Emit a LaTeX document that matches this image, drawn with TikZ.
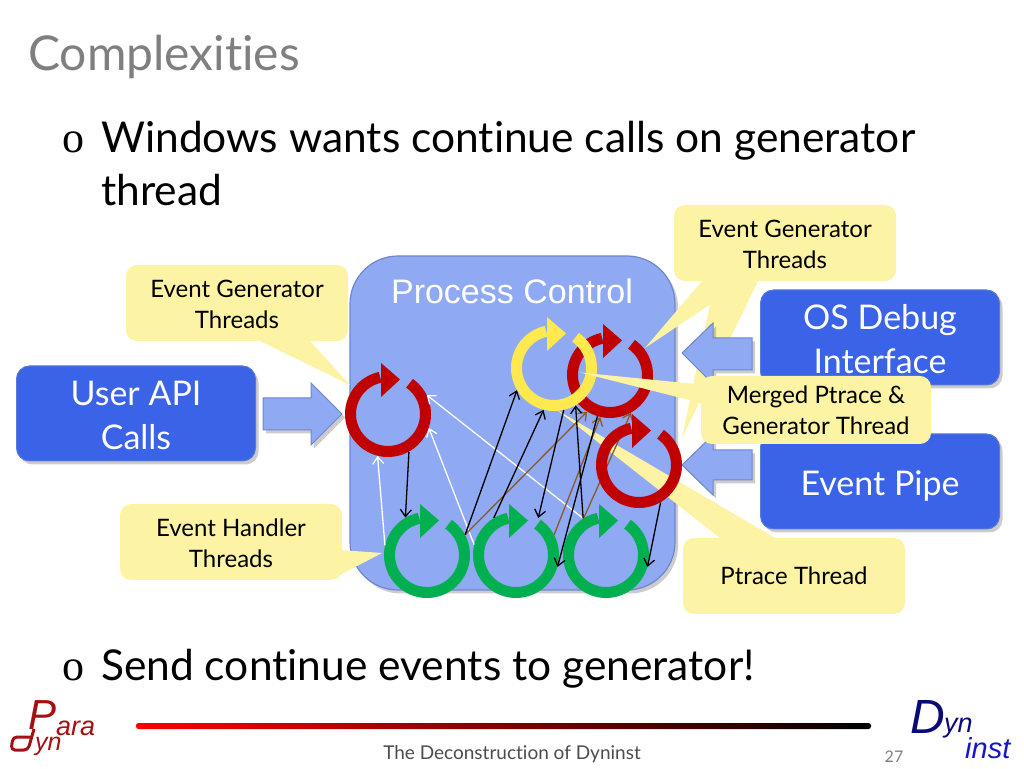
\documentclass[tikz,border=0pt]{standalone}
\usepackage{fontspec}
\setmainfont[Ligatures=NoCommon]{Lato}
\newfontfamily\arialfont{Liberation Sans}
\newfontfamily\bulletfont{Liberation Serif}
\usetikzlibrary{arrows.meta}
\usetikzlibrary{calc}
\usetikzlibrary{shadows}

\definecolor{titlegray}{HTML}{7F7F7F}
\definecolor{bluebox}{HTML}{3A63E8}
\definecolor{blueedge}{HTML}{5A78D8}
\definecolor{paleblue}{HTML}{8FA9F3}
\definecolor{paleedge}{HTML}{6F86CC}
\definecolor{note}{HTML}{FCF3A4}
\definecolor{loopred}{HTML}{C00000}
\definecolor{loopgreen}{HTML}{00B050}
\definecolor{loopyellow}{HTML}{FFE94F}
\definecolor{linkbrown}{HTML}{8A5A2B}
\definecolor{parared}{HTML}{A80F14}
\definecolor{dynnavy}{HTML}{0B0B78}
\definecolor{dynblue}{HTML}{1616C8}

\tikzset{
	softshadow/.style = {drop shadow={opacity=0.4,shadow xshift=3pt,shadow yshift=-3.5pt}},
	bluenode/.style = {fill=bluebox,draw=blueedge,line width=1pt,rounded corners=13pt,text=white,align=center,inner sep=0pt,
		minimum width=239pt,minimum height=95pt,font=\fontsize{34}{44}\selectfont,softshadow},
	notenode/.style = {fill=note,rounded corners=11pt,align=center,inner sep=0pt,
		minimum width=222pt,minimum height=76pt,font=\fontsize{24}{31}\selectfont},
	wedge/.style = {fill=note},
	blockarrow/.style = {fill=paleblue,draw=paleedge,line width=1pt,softshadow},
	loopnode/.style = {circle,minimum size=86pt,inner sep=0pt},
	headline/.style = {anchor=base west,inner sep=0pt,font=\fontsize{42.5}{46}\selectfont},
	blackarc/.style = {-{Straight Barb[length=7pt,width=11pt]},black,line width=1.3pt},
	whitearc/.style = {-{Straight Barb[length=7pt,width=11pt]},white,line width=1.3pt},
	brownarc/.style = {-{Straight Barb[length=7pt,width=11pt]},linkbrown,line width=1.3pt}
}

% one thread symbol, drawn round a loopnode
\newcommand{\threadloop}[2]{
	\draw [#2,line width=11pt] ($(#1)+(55:37.5)$) arc[start angle=55,end angle=-258,radius=37.5];
	\fill [#2] ($(#1)+(-7,51)$) -- ($(#1)+(12,34.5)$) -- ($(#1)+(-7,17)$) -- cycle;
}

\begin{document}
\begin{tikzpicture}[x=1pt,y=1pt]
	\useasboundingbox (0,0) rectangle (1024,768);
	\fill [white] (0,0) rectangle (1024,768);

	\node (title) [anchor=base west,inner sep=0pt,text=titlegray,font=\fontsize{48}{48}\selectfont] at (28,697) {Complexities};
	\node (bulletA) [headline,font=\bulletfont\fontsize{44}{46}\selectfont] at (62,615) {o};
	\node (lineA) [headline] at (101,615) {Windows wants continue calls on generator};
	\node (lineB) [headline] at (101,562) {thread};
	\node (bulletB) [headline,font=\bulletfont\fontsize{44}{46}\selectfont] at (62,88) {o};
	\node (lineC) [headline] at (101,88) {Send continue events to generator!};

	% process box
	\node (process) [fill=paleblue,draw=paleedge,line width=1.2pt,rounded corners=48pt,minimum width=325pt,minimum height=334pt,inner sep=0pt,softshadow] at (512.5,345) {};
	\node (processlabel) [text=white,font=\arialfont\fontsize{34}{34}\selectfont] at (512,477) {Process Control};

	% callout points that lie under the rest
	\fill [wedge] (702,487) -- (745,487) -- (645,420) -- cycle;
	\fill [wedge] (715,487) -- (758,487) -- (682,330) -- cycle;
	\fill [wedge] (260,427) -- (310,427) -- (350,383) -- cycle;
	\fill [wedge] (340,218) -- (340,193) -- (382,215) -- cycle;
	\fill [wedge] (720,230) -- (775,230) -- (557,358) -- cycle;

	\node (userapi) [bluenode] at (136,354.5) {\rule{0pt}{29pt}User API\\Calls};
	\node (osdebug) [bluenode] at (880,430.5) {\rule{0pt}{28pt}OS Debug\\Interface};
	\node (eventpipe) [bluenode] at (880,286.5) {\rule{0pt}{34pt}Event Pipe};

	\draw [blockarrow] (263,338) -- (311,338) -- (311,323) -- (342,354) -- (311,385) -- (311,370) -- (263,370) -- cycle;
	\draw [blockarrow] (752,430) -- (713,430) -- (713,445) -- (682,415) -- (713,384) -- (713,398) -- (752,398) -- cycle;
	\draw [blockarrow] (752,318) -- (713,318) -- (713,333) -- (682,303) -- (713,273) -- (713,288) -- (752,288) -- cycle;

	% threads
	\node (generator) [loopnode] at (388,354) {};
	\node (handlerA) [loopnode] at (427,213) {};
	\node (handlerB) [loopnode] at (516,213) {};
	\node (handlerC) [loopnode] at (606,213) {};
	\node (merged) [loopnode] at (554,400) {};
	\node (ptraceA) [loopnode] at (610,393) {};
	\node (ptraceB) [loopnode] at (639,303) {};

	\threadloop{generator}{loopred}
	\threadloop{handlerA}{loopgreen}
	\threadloop{handlerB}{loopgreen}
	\threadloop{handlerC}{loopgreen}
	\threadloop{ptraceA}{loopred}
	\threadloop{merged}{loopyellow}

	\draw [whitearc] (handlerA.167) -- (generator.256);
	\draw [whitearc] (handlerB.166) -- (generator.-19);
	\draw [whitearc] (handlerC.122) -- (generator.26);
	\draw [brownarc] (handlerA.28) -- (ptraceA.238);
	\draw [brownarc] (handlerB.28) -- (ptraceA.257);
	\draw [brownarc] (handlerC.121) -- (ptraceA.299);
	\draw [blackarc] (generator.-61) -- (handlerA.120);
	\draw [blackarc] (handlerA.28) -- (merged.211);
	\draw [blackarc] (handlerB.121) -- (merged.256);
	\draw [blackarc] (merged.283) -- (handlerB.59);
	\draw [blackarc] (handlerC.122) -- (merged.300);
	\draw [blackarc] (ptraceA.253) -- (handlerB.-16);
	\draw [blackarc] (ptraceB.-60) -- (handlerC.-16);

	\threadloop{ptraceB}{loopred}

	% callouts on top
	\fill [wedge] (580,395.5) -- (705,383) -- (705,364) -- cycle;
	\node (notegenright) [notenode] at (785,525) {\rule{0pt}{21pt}Event Generator\\Threads};
	\node (notegenleft) [notenode] at (237,465) {\rule{0pt}{21pt}Event Generator\\Threads};
	\node (notehandler) [notenode] at (231,226) {\rule{0pt}{21pt}Event Handler\\Threads};
	\node (notemerged) [notenode,minimum width=230pt,minimum height=68pt] at (816,358) {Merged Ptrace \&\\Generator Thread};
	\node (noteptrace) [notenode] at (794,192) {Ptrace Thread};

	% footer
	\shade [left color=red,middle color=red!88!black,right color=black,rounded corners=2.5pt] (136,39) rectangle (871,45);
	\node (foottext) [anchor=base,inner sep=0pt,text=black!70,font=\fontsize{19}{19}\selectfont] at (512,9) {The Deconstruction of Dyninst};
	\node (pagenum) [anchor=base,inner sep=0pt,text=titlegray,font=\fontsize{16}{16}\selectfont] at (894,6) {27};

	% logos
	\draw [parared,line width=3pt,rounded corners=4pt] (30,31) -- (13,31) -- (11,18) -- (28,18) -- (34,39);
	\node (logoP) [anchor=base west,inner sep=0pt,text=parared,font=\arialfont\itshape\fontsize{42}{42}\selectfont] at (28,39) {P};
	\node (logoara) [anchor=base west,inner sep=0pt,text=parared,font=\arialfont\itshape\fontsize{27}{27}\selectfont] at (56,33) {ara};
	\node (logoyn) [anchor=base west,inner sep=0pt,text=parared,font=\arialfont\itshape\fontsize{25}{25}\selectfont] at (35,18) {yn};
	\node (logoD) [anchor=base west,inner sep=0pt,text=dynnavy,font=\arialfont\itshape\fontsize{48}{48}\selectfont] at (910,35) {D};
	\node (logoyntwo) [anchor=base west,inner sep=0pt,text=dynnavy,font=\arialfont\itshape\fontsize{27}{27}\selectfont] at (944,36) {yn};
	\node (logoinst) [anchor=base west,inner sep=0pt,text=dynblue,font=\arialfont\itshape\fontsize{29}{29}\selectfont] at (965,10) {inst};
\end{tikzpicture}
\end{document}
